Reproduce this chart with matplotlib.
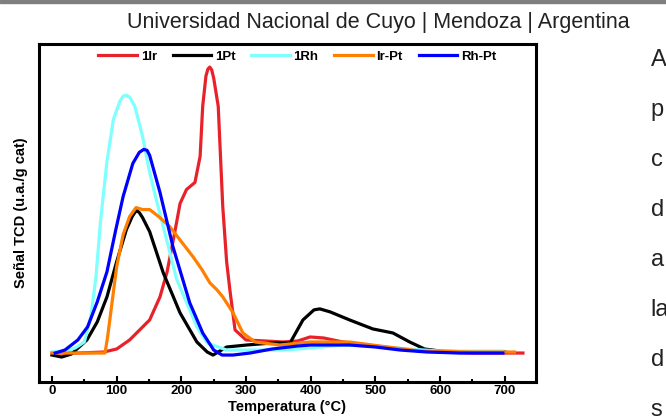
import matplotlib
matplotlib.use("Agg")
import matplotlib.pyplot as plt
from matplotlib.patches import Rectangle

plt.rcParams['font.family'] = ['Liberation Sans', 'DejaVu Sans']

# TPR curves (temperature in degC, signal in arbitrary units)
ir_x = [0, 40, 80, 100, 120, 151, 167, 178, 190, 198, 208, 221, 229, 233, 238, 241, 244, 247, 250, 257, 264,
        270, 275, 283, 300, 330, 357, 380, 399, 420, 450, 500, 540, 600, 650, 700, 728]
ir_y = [29, 29, 30, 33, 42, 62, 85, 110, 150, 178, 192, 199, 225, 275, 305, 312, 314, 311, 303, 275, 175,
        120, 92, 52, 42, 41, 40, 41, 45, 44, 40, 36, 33, 30, 29, 29, 29]

pt_x = [0, 15, 30, 54, 70, 85, 100, 115, 124, 128, 131, 135, 140, 151, 172, 198, 224, 240, 249, 270, 301, 340,
        368, 388, 405, 414, 430, 460, 496, 527, 553, 576, 600, 650, 700]
pt_y = [27, 25, 28, 42, 60, 85, 120, 152, 165, 169, 171, 169, 164, 150, 109, 69, 40, 30, 27, 35, 37, 39,
        39, 62, 72, 73, 70, 62, 53, 49, 40, 33, 31, 30, 30]

rh_x = [0, 20, 36, 50, 60, 68, 75, 85, 95, 105, 110, 115, 120, 128, 140, 151, 160, 172, 193, 213, 224, 240,
        270, 290, 320, 360, 400, 450, 500, 550, 600, 650, 697]
rh_y = [30, 31, 34, 40, 65, 105, 160, 220, 262, 280, 285, 286, 284, 275, 245, 209, 185, 155, 102, 72, 55, 39,
        32, 32, 32, 32, 34, 37, 36, 33, 31, 31, 31]

irpt_x = [0, 40, 82, 86, 92, 100, 110, 120, 130, 140, 151, 165, 182, 200, 218, 232, 244, 255, 264, 272, 280,
          295, 314, 352, 399, 460, 507, 569, 650, 715]
irpt_y = [29, 29, 29, 45, 75, 115, 147, 165, 174, 172, 172, 165, 155, 140, 125, 112, 99, 92, 85, 77, 69,
          49, 40, 37, 40, 40, 36, 31, 30, 30]

rhpt_x = [5, 20, 40, 55, 70, 85, 98, 110, 125, 135, 142, 147, 151, 167, 187, 213, 233, 250, 263, 280, 306,
          340, 380, 400, 460, 500, 538, 580, 630, 697]
rhpt_y = [29, 32, 42, 55, 80, 110, 150, 185, 218, 229, 232, 231, 226, 189, 135, 79, 49, 32, 27, 27, 29,
          33, 36, 37, 37, 35, 32, 30, 29, 29]

series = [
    ('1Ir', ir_x, ir_y, '#e8222a'),
    ('1Pt', pt_x, pt_y, '#000000'),
    ('1Rh', rh_x, rh_y, '#80ffff'),
    ('Ir-Pt', irpt_x, irpt_y, '#ff8000'),
    ('Rh-Pt', rhpt_x, rhpt_y, '#0000ff'),
]

header = 'Universidad Nacional de Cuyo | Mendoza | Argentina'
side_words = ['A', 'p', 'c', 'd', 'a', 'la', 'd', 's']

fig = plt.figure(figsize=(6.66, 4.19), dpi=100)
ax = fig.add_axes([0.0586, 0.088, 0.746, 0.807])

for name, xs, ys, col in series:
    ax.plot(xs, ys, color=col, lw=2.3, label=name, solid_joinstyle='round')

ax.set_xlim(-20, 748)
ax.set_ylim(0, 337)
ax.set_yticks([])
ax.set_xticks(range(0, 701, 100))
ax.set_xticks(range(50, 701, 100), minor=True)
ax.tick_params(axis='x', which='major', direction='in', length=4, width=1.5, pad=2, labelsize=9.5)
ax.tick_params(axis='x', which='minor', direction='in', length=2, width=1.5)
for lab in ax.get_xticklabels():
    lab.set_fontweight('bold')
for sp in ax.spines.values():
    sp.set_linewidth(2.2)

ax.set_xlabel('Temperatura (°C)', fontsize=10.5, fontweight='bold', labelpad=2)
ax.set_ylabel('Señal TCD (u.a./g cat)', fontsize=10.5, fontweight='bold', labelpad=8)

leg = ax.legend(loc='upper center', ncol=5, frameon=False, prop={'weight': 'bold', 'size': 9.5},
                handlelength=2.9, columnspacing=1.2, handletextpad=0.3, borderaxespad=0.1,
                bbox_to_anchor=(0.52, 1.0))

# slide decorations around the chart
fig.patches.append(Rectangle((0, 0.992), 1, 0.008, transform=fig.transFigure, color='#7f7f7f'))
fig.text(0.568, 0.947, header, fontsize=15.5, ha='center', va='center', color='#222222')
for i, w in enumerate(side_words):
    fig.text(0.977, 1 - (60 + 50 * i) / 419, w, fontsize=17, ha='left', va='center', color='#222222')

fig.savefig('out.png', dpi=100)
